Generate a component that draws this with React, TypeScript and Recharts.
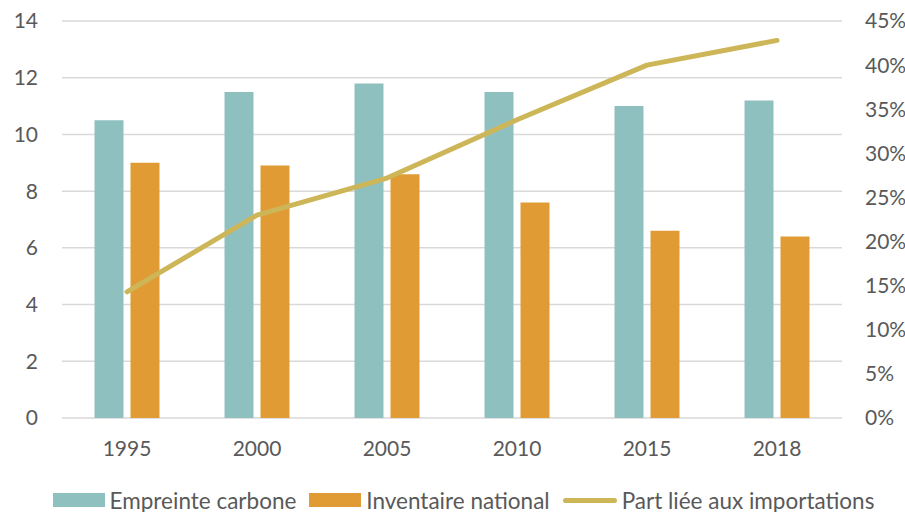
import { ComposedChart, Bar, Line, XAxis, YAxis, CartesianGrid, Legend } from 'recharts';

const years = ['1995', '2000', '2005', '2010', '2015', '2018'];
const empreinte = [10.5, 11.5, 11.8, 11.5, 11.0, 11.2];
const inventaire = [9.0, 8.9, 8.6, 7.6, 6.6, 6.4];
const partImport = [14.3, 23.0, 27.2, 33.8, 40.0, 42.8];

const leftTicks = [0, 2, 4, 6, 8, 10, 12, 14];
const rightTicks = [0, 5, 10, 15, 20, 25, 30, 35, 40, 45];

const COLORS = {
  empreinte: '#8FC0C0',
  inventaire: '#E09B35',
  part: '#CDB658',
  grid: '#D9D9D9',
  text: '#595959',
};

const FONT = 'Lato, "Open Sans", sans-serif';

const data = years.map((year, i) => ({
  year,
  empreinte: empreinte[i],
  inventaire: inventaire[i],
  part: partImport[i],
}));

const legendItems = [
  { label: 'Empreinte carbone', color: COLORS.empreinte, kind: 'rect' },
  { label: 'Inventaire national', color: COLORS.inventaire, kind: 'rect' },
  { label: 'Part liée aux importations', color: COLORS.part, kind: 'line' },
];

// custom legend so the swatches can be wide rectangles like the original
const renderLegend = () => (
  <div
    style={{
      display: 'flex',
      justifyContent: 'center',
      alignItems: 'center',
      gap: 13,
      fontFamily: FONT,
      fontSize: 22.5,
      color: COLORS.text,
      height: 26,
      boxSizing: 'border-box',
      paddingLeft: 22,
      paddingTop: 2,
    }}
  >
    {legendItems.map((item) => (
      <div key={item.label} style={{ display: 'flex', alignItems: 'center', gap: 5 }}>
        {item.kind === 'rect' ? (
          <div style={{ width: 52, height: 14, background: item.color }} />
        ) : (
          <div style={{ width: 54, height: 5, borderRadius: 3, background: item.color }} />
        )}
        <span>{item.label}</span>
      </div>
    ))}
  </div>
);

export default function App() {
  const tickStyle = { fill: COLORS.text, fontSize: 21, fontFamily: FONT };

  return (
    <div style={{ position: 'absolute', left: 0, top: 0, width: 905, height: 512, background: '#fff', overflow: 'hidden' }}>
      <ComposedChart
        width={905}
        height={512}
        data={data}
        margin={{ top: 21, right: 0, left: 0, bottom: 0 }}
        barCategoryGap="25%"
        barGap={7}
      >
        <CartesianGrid vertical={false} stroke={COLORS.grid} strokeWidth={1.5} yAxisId="left" />
        <XAxis
          dataKey="year"
          axisLine={false}
          tickLine={false}
          tickSize={6}
          tickMargin={17}
          height={68}
          tick={tickStyle}
        />
        <YAxis
          yAxisId="left"
          domain={[0, 14]}
          ticks={leftTicks}
          width={62}
          axisLine={false}
          tickLine={false}
          tickSize={6}
          tickMargin={18}
          tick={tickStyle}
        />
        <YAxis
          yAxisId="right"
          orientation="right"
          domain={[0, 45]}
          ticks={rightTicks}
          width={63}
          axisLine={false}
          tickLine={false}
          tickSize={6}
          tickMargin={17}
          tick={{ ...tickStyle, textAnchor: 'start' }}
          tickFormatter={(v: number) => `${v}%`}
        />
        <Bar yAxisId="left" dataKey="empreinte" name="Empreinte carbone" fill={COLORS.empreinte} isAnimationActive={false} />
        <Bar yAxisId="left" dataKey="inventaire" name="Inventaire national" fill={COLORS.inventaire} isAnimationActive={false} />
        <Line
          yAxisId="right"
          dataKey="part"
          name="Part liée aux importations"
          stroke={COLORS.part}
          strokeWidth={5}
          strokeLinecap="round"
          strokeLinejoin="round"
          type="linear"
          dot={false}
          activeDot={false}
          isAnimationActive={false}
        />
        <Legend verticalAlign="bottom" content={renderLegend} />
      </ComposedChart>
    </div>
  );
}
